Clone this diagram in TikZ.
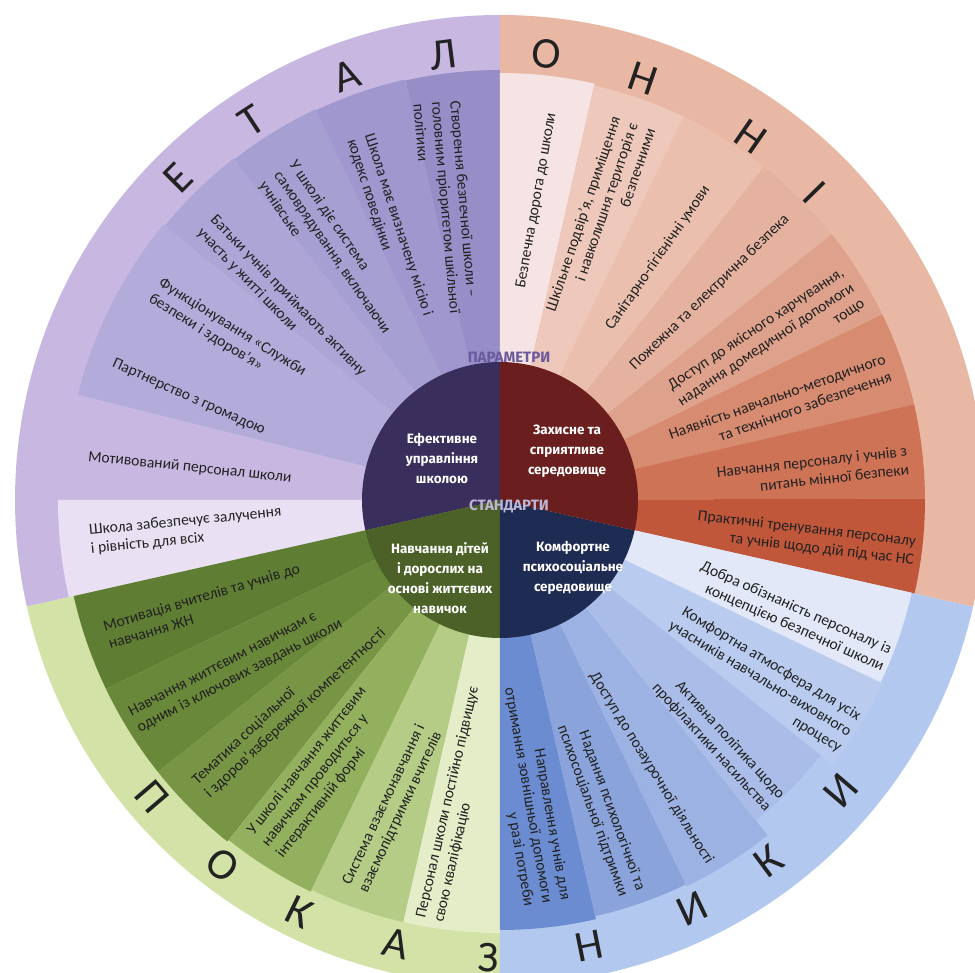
\documentclass[tikz,border=0pt]{standalone}
\usepackage{fontspec}
\setmainfont{Carlito}
\newfontfamily\innerfont{Fira Sans}
\definecolor{ringP}{HTML}{C8B8E1}
\definecolor{ringR}{HTML}{E9B8A4}
\definecolor{ringG}{HTML}{D3E2A6}
\definecolor{ringB}{HTML}{B3C8EF}
\definecolor{P1}{HTML}{978EC7}
\definecolor{P2}{HTML}{9F97CD}
\definecolor{P3}{HTML}{A69FD2}
\definecolor{P4}{HTML}{ACA5D6}
\definecolor{P5}{HTML}{B3ACDA}
\definecolor{P8}{HTML}{E9E1F3}
\definecolor{R1}{HTML}{F5E4E3}
\definecolor{R2}{HTML}{EEC9BB}
\definecolor{R3}{HTML}{EABFAE}
\definecolor{R4}{HTML}{E4B29F}
\definecolor{R5}{HTML}{DEA18B}
\definecolor{R6}{HTML}{D78B71}
\definecolor{R7}{HTML}{CE7356}
\definecolor{R8}{HTML}{C1573A}
\definecolor{G1}{HTML}{5F7D33}
\definecolor{G2}{HTML}{6A883A}
\definecolor{G3}{HTML}{779545}
\definecolor{G4}{HTML}{93B05F}
\definecolor{G5}{HTML}{B5CC87}
\definecolor{G6}{HTML}{E4EDC8}
\definecolor{B1}{HTML}{E2E8F8}
\definecolor{B2}{HTML}{B9CCF0}
\definecolor{B3}{HTML}{A9BDE8}
\definecolor{B4}{HTML}{9CB2E2}
\definecolor{B5}{HTML}{8AA4DB}
\definecolor{B6}{HTML}{6B8CD0}
\definecolor{inP}{HTML}{3A2E5C}
\definecolor{inR}{HTML}{6A1E1E}
\definecolor{inG}{HTML}{4B6127}
\definecolor{inB}{HTML}{1E2B52}
\definecolor{txt}{HTML}{222222}
\definecolor{parcol}{HTML}{6B5B9E}
\definecolor{stdcol}{HTML}{BDB5D5}
\newcommand{\mywedge}[4]{\fill[#1] (0,0) -- (#2:#4) arc[start angle=#2, end angle=#3, radius=#4] -- cycle;}
\begin{document}
\begin{tikzpicture}[x=1pt,y=1pt,
  lbl/.style={font=\fontsize{15.6}{18.5}\selectfont, text=txt, inner sep=0pt},
  rt/.style={lbl, anchor=east, align=right},
  lt/.style={lbl, anchor=west, align=left},
  ctr/.style={font=\innerfont\bfseries\fontsize{13.5}{20}\selectfont, text=white, align=center, inner sep=0pt},
  hdr/.style={font=\innerfont\bfseries\fontsize{15}{15}\selectfont, inner sep=0pt},
  big/.style={font=\fontsize{44}{44}\selectfont, text=txt, inner sep=0pt}]
\fill[white] (-500,-473) rectangle (475,500);
\useasboundingbox (-500,-473) rectangle (475,500);
% outer ring
\mywedge{ringP}{90}{192.7}{485}
\mywedge{ringG}{192.7}{270}{485}
\mywedge{ringB}{270}{347.3}{485}
\mywedge{ringR}{-12.7}{90}{485}
% purple fan
\mywedge{P1}{90}{102.7}{430}
\mywedge{P2}{102.7}{115.3}{431}
\mywedge{P3}{115.3}{128}{432}
\mywedge{P4}{128}{140.7}{433}
\mywedge{P5}{140.7}{166}{435}
\mywedge{P8}{180}{192.7}{442}
% red fan
\mywedge{R1}{77.2}{90}{427}
\mywedge{R2}{64.4}{77.2}{425}
\mywedge{R3}{51.6}{64.4}{425}
\mywedge{R4}{38.7}{51.6}{425}
\mywedge{R5}{25.9}{38.7}{425}
\mywedge{R6}{13}{25.9}{425}
\mywedge{R7}{0.2}{13}{425}
\mywedge{R8}{-12.7}{0.2}{425}
% green fan
\mywedge{G1}{192.7}{205.6}{437}
\mywedge{G2}{205.6}{218.5}{437}
\mywedge{G3}{218.5}{231.4}{437}
\mywedge{G4}{231.4}{244.2}{435}
\mywedge{G5}{244.2}{257.1}{433}
\mywedge{G6}{257.1}{270}{433}
% blue fan
\mywedge{B6}{270}{282.9}{430}
\mywedge{B5}{282.9}{295.8}{427}
\mywedge{B4}{295.8}{308.6}{429}
\mywedge{B3}{308.6}{321.5}{410}
\mywedge{B2}{321.5}{334.4}{425}
\mywedge{B1}{334.4}{347.3}{422}
% inner circle
\mywedge{inP}{90}{192.7}{138}
\mywedge{inG}{192.7}{270}{138}
\mywedge{inB}{270}{347.3}{138}
\mywedge{inR}{-12.7}{90}{138}
% centre texts
\node[ctr] (c1) at (-58,42) {Ефективне\\управління\\школою};
\node[ctr] (c2) at (67,49) {Захисне та\\сприятливе\\середовище};
\node[ctr] (c3) at (-60,-78) {Навчання дітей\\і дорослих на\\основі життєвих\\навичок};
\node[ctr] (c4) at (73,-68) {Комфортне\\психосоціальне\\середовище};
\node[hdr, text=parcol] (par) at (9,143) {ПАРАМЕТРИ};
\node[hdr, text=stdcol] (std) at (9,-6) {СТАНДАРТИ};
% purple texts
\node[lt, rotate=-85] (p1) at (-63,398) {Створення безпечної школи –\\головним пріоритетом шкільної\\політики};
\node[lt, rotate=-72] (p2) at (-140,363) {Школа має визначену місію і\\кодекс поведінки};
\node[lt, rotate=-55.4] (p3) at (-223,327) {У школі діє система\\самоврядування, включаючи\\учнівське};
\node[lt, rotate=-46] (p4) at (-294,276) {Батьки учнів приймають активну\\участь у житті школи};
\node[lt, rotate=-32] (p5) at (-345,210) {Функціонування «Служби\\безпеки і здоров’я»};
\node[lt, rotate=-24.3] (p6) at (-387,137) {Партнерство з громадою};
\node[lt, rotate=-6] (p7) at (-412,43) {Мотивований персонал школи};
\node[lt, rotate=5.5] (p8) at (-410,-40) {Школа забезпечує залучення\\і рівність для всіх};
% red texts
\node[rt, rotate=80] (r1) at (52,387) {Безпечна дорога до школи};
\node[rt, rotate=71.3] (r2) at (133,377) {Шкільне подвір’я, приміщення\\і навколишня територія є\\безпечними};
\node[rt, rotate=55.3] (r3) at (207,313) {Санітарно-гігієнічні умови};
\node[rt, rotate=44.3] (r4) at (287,283) {Пожежна та електрична безпека};
\node[rt, rotate=33.7] (r5) at (353,213) {Доступ до якісного харчування,\\надання домедичної допомоги\\тощо};
\node[rt, rotate=19.5] (r6) at (388,133) {Наявність навчально-методичного\\та технічного забезпечення};
\node[rt, rotate=6.4] (r7) at (408,40) {Навчання персоналу і учнів з\\питань мінної безпеки};
\node[rt, rotate=-6.7] (r8) at (415,-51) {Практичні тренування персоналу\\та учнів щодо дій під час НС};
% green texts
\node[lt, rotate=16.6] (g1) at (-394,-135) {Мотивація вчителів та учнів до\\навчання ЖН};
\node[lt, rotate=27.5] (g2) at (-366,-221) {Навчання життєвим навичкам є\\одним із ключових завдань школи};
\node[lt, rotate=43] (g3) at (-299,-289) {Тематика соціальної\\і здоров’язбережної компетентності};
\node[lt, rotate=52] (g4) at (-235,-345) {У школі навчання життєвим\\навичкам проводиться у\\інтерактивній формі};
\node[lt, rotate=64.8] (g5) at (-145,-388) {Система взаємонавчання і\\взаємопідтримки вчителів};
\node[lt, rotate=77] (g6) at (-70,-420) {Персонал школи постійно підвищує\\свою кваліфікацію};
% blue texts
\node[rt, rotate=-24] (b1) at (387,-159) {Добра обізнаність персоналу із\\концепцією безпечної школи};
\node[rt, rotate=-31] (b2) at (350,-233) {Комфортна атмосфера для усіх\\учасників навчально-виховного\\процесу};
\node[rt, rotate=-47.5] (b3) at (275,-303) {Активна політика щодо\\профілактики насильства};
\node[rt, rotate=-58.3] (b4) at (210,-363) {Доступ до позаурочної діяльності};
\node[rt, rotate=-70] (b5) at (132,-393) {Надання психологічної та\\психосоціальної підтримки};
\node[rt, rotate=-80] (b6) at (47,-403) {Направлення учнів для\\отримання зовнішньої допомоги\\у разі потреби};
% ring letters
\foreach \a/\r/\l [count=\i] in {135/455/Е,123.2/453/Т,109.9/451/А,97.3/449/Л,84/448/О,71.2/445/Н,55.4/442/Н,44.4/440/І}
  \node[big, rotate=\a-90] (t\i) at (\a:\r) {\l};
\foreach \a/\r/\l [count=\i] in {220.5/457/П,232.8/458/О,244/458/К,256.8/456/А,268.5/458/З,281.3/455/Н,295.2/452/И,306.6/450/К,319.5/448/И}
  \node[big, rotate=\a+90] (u\i) at (\a:\r) {\l};
\end{tikzpicture}
\end{document}
